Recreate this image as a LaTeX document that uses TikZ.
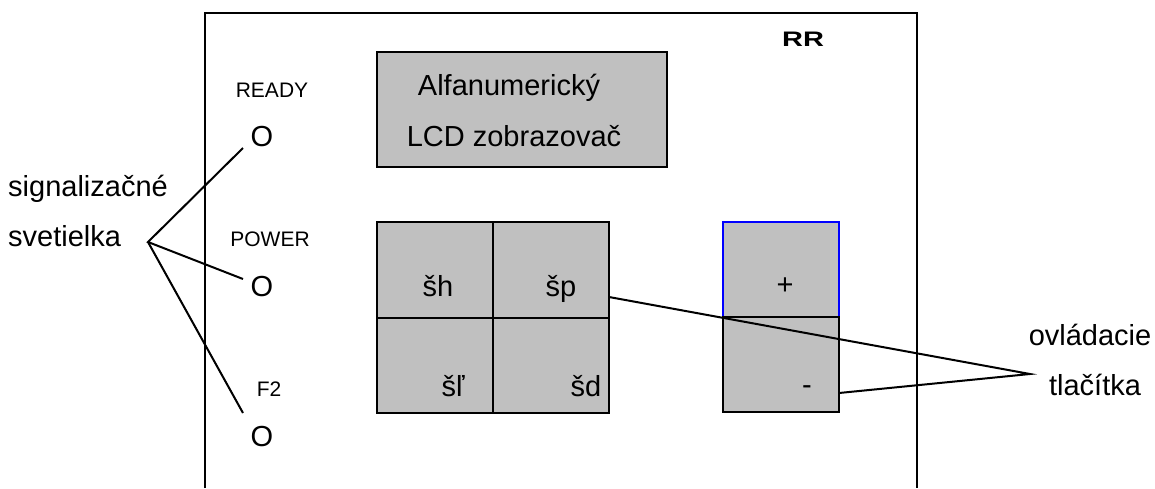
\documentclass[tikz,border=0pt]{standalone}
\usepackage{fontspec}
\usepackage{graphicx}
\setmainfont{Liberation Sans}
\definecolor{boxgray}{RGB}{192,192,192}
\definecolor{plusblue}{RGB}{0,0,255}
\begin{document}
\begin{tikzpicture}[x=1pt,y=-1pt,
  big/.style={font=\fontsize{29}{33}\selectfont, inner sep=0pt, anchor=base},
  small/.style={font=\fontsize{21}{24}\selectfont, inner sep=0pt, anchor=base},
  gbox/.style={draw=black, fill=boxgray, line width=1.8pt, inner sep=0pt, outer sep=0pt, rectangle},
  cell/.style={gbox, minimum width=116pt, minimum height=96pt},
  frameline/.style={draw=black, line width=1.8pt},
  conn/.style={draw=black, line width=2pt}]
\useasboundingbox (0,0) rectangle (1155,488);

% outer frame (open at bottom)
\coordinate (fbl) at (205,488);
\coordinate (ftl) at (205,13);
\coordinate (ftr) at (917,13);
\coordinate (fbr) at (917,488);
\draw[frameline] (fbl) -- (ftl) -- (ftr) -- (fbr);

\node[font=\bfseries\fontsize{21}{24}\selectfont, inner sep=0pt, anchor=base] (rr) at (803,46) {\scalebox{1.38}[1]{RR}};

% LCD
\node[gbox, minimum width=290pt, minimum height=115pt] (lcd) at (522,109.5) {};
\node[big] (alfa) at (509,95) {Alfanumerický};
\node[big] (lcdt) at (514,146) {LCD zobrazovač};

% lamps
\node[small] (ready) at (272,97) {READY};
\node[big] (o1) at (262,146) {O};
\node[small] (power) at (270,246) {POWER};
\node[big] (o2) at (262,296) {O};
\node[small] (f2) at (269,396) {F2};
\node[big] (o3) at (262,446) {O};

% keypad
\node[cell] (shc) at (435,270) {};
\node[cell] (spc) at (551,270) {};
\node[cell, minimum height=95pt] (slc) at (435,365.5) {};
\node[cell, minimum height=95pt] (sdc) at (551,365.5) {};
\node[big] (sh) at (438,296) {šh};
\node[big] (sp) at (561,296) {šp};
\node[big] (sl) at (453,396) {šľ};
\node[big] (sd) at (586,396) {šd};

% plus / minus
\node[gbox, draw=plusblue, minimum width=116pt, minimum height=95pt] (plusc) at (781,269.5) {};
\node[gbox, minimum width=116pt, minimum height=95pt] (minusc) at (781,364.5) {};
\node[font=\fontsize{29}{33}\selectfont, inner sep=0pt] (plus) at (785,286) {+};
\node[big] (minus) at (807,394) {-};

% labels
\node[big, anchor=base west] (sig1) at (8,196) {signalizačné};
\node[big, anchor=base west] (sig2) at (8,246) {svetielka};
\node[big] (ovl1) at (1090,345) {ovládacie};
\node[big] (ovl2) at (1095,395) {tlačítka};

% connectors left
\coordinate (hub) at (148,242);
\coordinate (e1) at (243,148);
\coordinate (e2) at (243,279);
\coordinate (e3) at (243,413);
\draw[conn] (e1) -- (hub) -- (e2);
\draw[conn] (hub) -- (e3);

% connectors right
\coordinate (ctrl) at (1030,374);
\coordinate (spend) at (609,297);
\coordinate (minend) at (839,393);
\draw[conn] (spend) -- (ctrl) -- (minend);
\end{tikzpicture}
\end{document}
